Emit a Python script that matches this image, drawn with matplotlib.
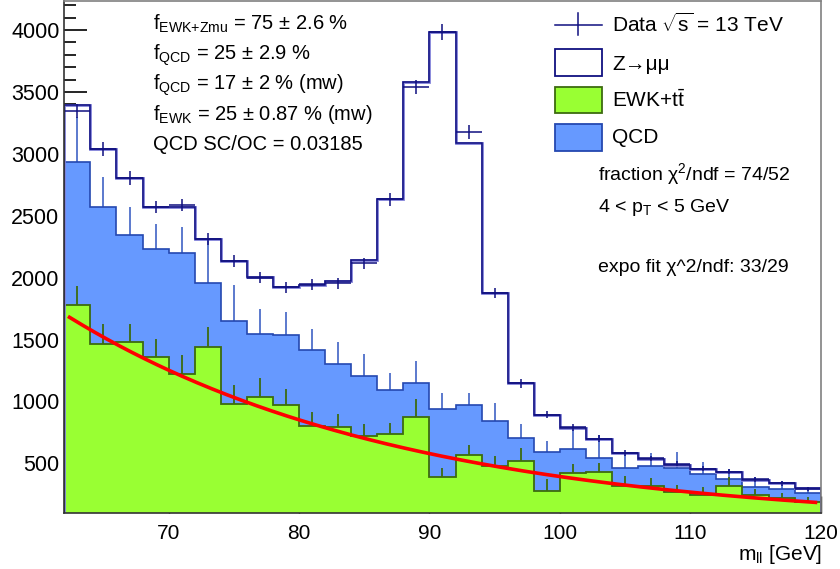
import numpy as np
import matplotlib
matplotlib.use("Agg")
import matplotlib.pyplot as plt
from matplotlib.patches import Rectangle
from matplotlib.lines import Line2D

plt.rcParams['font.family'] = ['Liberation Sans', 'DejaVu Sans']
plt.rcParams['mathtext.fontset'] = 'custom'
plt.rcParams['mathtext.rm'] = 'Liberation Sans'
plt.rcParams['mathtext.it'] = 'Liberation Sans:italic'
plt.rcParams['mathtext.bf'] = 'Liberation Sans:bold'
plt.rcParams['mathtext.sf'] = 'Liberation Sans'

# ---------------- data ----------------
mass_edges = list(range(62, 122, 2))  # m_ll bin edges [GeV]

data_counts = [3345, 3040, 2805, 2572, 2586, 2312, 2136, 1998, 1921, 1948,
               1956, 2115, 2632, 3540, 3985, 3173, 1875, 1146, 893, 792,
               700, 580, 540, 497, 458, 432, 370, 338, 295]

ewk_counts = [1776, 1464, 1482, 1361, 1221, 1442, 976, 1038, 971, 801,
              795, 723, 737, 871, 392, 567, 476, 521, 280, 420,
              432, 315, 314, 268, 247, 319, 248, 217, 190]
ewk_errors = [155, 162, 143, 140, 151, 162, 156, 148, 126, 110,
              102, 94, 92, 145, 67, 81, 84, 100, 95, 78,
              73, 81, 67, 59, 62, 73, 46, 40, 40]

qcd_counts = [1160, 1106, 859, 869, 979, 518, 676, 509, 562, 614,
              507, 482, 355, 275, 544, 404, 368, 181, 314, 197,
              113, 145, 166, 192, 163, 51, 60, 78, 68]
qcd_errors = [360, 245, 226, 207, 210, 350, 288, 200, 188, 170,
              180, 175, 140, 183, 134, 94, 140, 116, 90, 185,
              188, 135, 102, 135, 100, 81, 81, 59, 48]

zmumu_counts = [458, 470, 464, 340, 368, 352, 484, 460, 393, 528,
                668, 937, 1540, 2431, 3045, 2119, 1034, 444, 294, 171,
                153, 124, 56, 30, 45, 62, 60, 48, 44]

# exponential fit to EWK: exp(p0 + p1*x)
fit_p0 = 9.835
fit_p1 = -0.0386
fit_range = (62.4, 119.6)

info_lines = [r"f$_{\text{EWK+Zmu}}$ = 75 ± 2.6 %",
              r"f$_{\mathrm{QCD}}$ = 25 ± 2.9 %",
              r"f$_{\mathrm{QCD}}$ = 17 ± 2 % (mw)",
              r"f$_{\mathrm{EWK}}$ = 25 ± 0.87 % (mw)",
              "QCD SC/OC = 0.03185"]
legend_labels = [r"Data $\sqrt{\mathrm{s}}$ = 13 TeV", "Z→μμ", r"EWK+t$\bar{\mathrm{t}}$", "QCD"]
extra_lines = [r"fraction χ$^{2}$/ndf = 74/52",
               r"4 < p$_{\mathrm{T}}$ < 5 GeV",
               "expo fit χ^2/ndf: 33/29"]

# ---------------- colours ----------------
c_green = '#99ff33'
c_green_edge = '#3d6b0f'
c_blue = '#6699ff'
c_blue_edge = '#2448b0'
c_navy = '#101080'
c_red = '#ff0000'

W, H = 840, 569
fig = plt.figure(figsize=(W / 100, H / 100), dpi=100)
ax_l, ax_r, ax_t, ax_b = 64.3, 820.7, 0.7, 512.5
ax = fig.add_axes([ax_l / W, 1 - ax_b / H, (ax_r - ax_l) / W, (ax_b - ax_t) / H])

edges = np.array(mass_edges, dtype=float)
centers = 0.5 * (edges[:-1] + edges[1:])
ewk = np.array(ewk_counts, dtype=float)
qcd_top = ewk + np.array(qcd_counts, dtype=float)
z_top = qcd_top + np.array(zmumu_counts, dtype=float)
data = np.array(data_counts, dtype=float)

ax.stairs(z_top, edges, baseline=0, fill=True, facecolor='white', zorder=1)
ax.vlines(centers, qcd_top, qcd_top + np.array(qcd_errors), colors='#2f55c0', lw=1.1, zorder=2)
ax.stairs(qcd_top, edges, baseline=0, fill=True, facecolor=c_blue, edgecolor='none', zorder=3)
ax.stairs(qcd_top, edges, baseline=0, fill=False, color=c_blue_edge, lw=1.2, zorder=3.1)
ax.vlines(centers, ewk, ewk + np.array(ewk_errors), colors=c_green_edge, lw=1.3, zorder=4)
ax.stairs(ewk, edges, baseline=0, fill=True, facecolor=c_green, edgecolor='none', zorder=5)
ax.stairs(ewk, edges, baseline=0, fill=False, color=c_green_edge, lw=1.3, zorder=5.1)

xf = np.linspace(fit_range[0], fit_range[1], 300)
ax.plot(xf, np.exp(fit_p0 + fit_p1 * xf), color=c_red, lw=2.6, zorder=6)

ax.stairs(z_top, edges, baseline=0, fill=False, color='#8080d8', lw=2.0, zorder=7)
ax.stairs(z_top, edges, baseline=0, fill=False, color=c_navy, lw=1.1, zorder=7.1)
ax.errorbar(centers, data, xerr=1.0, yerr=np.sqrt(data), fmt='none',
            ecolor=c_navy, elinewidth=1.1, capsize=0, zorder=8)

ax.set_xlim(62, 120)
ax.set_ylim(103, 4237)
ax.set_axisbelow(True)
ax.set_xticks([70, 80, 90, 100, 110, 120])
ax.set_yticks(range(500, 4001, 500))
ax.set_yticks(range(200, 4201, 100), minor=True)
ax.tick_params(axis='y', which='major', direction='in', length=16.5, width=1.2,
               labelsize=15.5, pad=3.5, right=False)
ax.tick_params(axis='y', which='minor', direction='in', length=8.5, width=1.2, right=False)
ax.tick_params(axis='x', which='major', direction='in', length=12, width=1.0,
               labelsize=15, pad=8, top=False)
for s in ['top', 'right']:
    ax.spines[s].set_color('#808080')
for s in ['left', 'bottom']:
    ax.spines[s].set_color('#333333')
for s in ax.spines.values():
    s.set_linewidth(1.2)
    s.set_zorder(9)

def fx(x):
    return x / W

def fy(y):
    return 1 - y / H

fig.text(fx(822), fy(560), r"m$_{\mathrm{ll}}$ [GeV]", ha='right', va='baseline', fontsize=15)

for i, t in enumerate(info_lines):
    fig.text(fx(153), fy(30 + 30.1 * i), t, ha='left', va='baseline', fontsize=14.5)

# legend
fig.add_artist(Line2D([fx(555), fx(602)], [fy(25), fy(25)], color=c_navy, lw=1.1))
fig.add_artist(Line2D([fx(578), fx(578)], [fy(13), fy(35)], color=c_navy, lw=1.1))
box_specs = [(49.3, 'white', c_navy), (86.7, c_green, c_green_edge), (124.3, c_blue, c_blue_edge)]
for top, fc, ec in box_specs:
    fig.add_artist(Rectangle((fx(555), fy(top + 26.7)), (602 - 555) / W, 26.7 / H,
                             facecolor=fc, edgecolor=ec, lw=1.3, transform=fig.transFigure))
leg_baselines = [32, 70, 107, 143]
for t, b in zip(legend_labels, leg_baselines):
    fig.text(fx(612), fy(b), t, ha='left', va='baseline', fontsize=15)

for t, b in zip(extra_lines, [180, 212, 272]):
    fig.text(fx(598), fy(b), t, ha='left', va='baseline', fontsize=14)

fig.savefig("out.png", dpi=100)
